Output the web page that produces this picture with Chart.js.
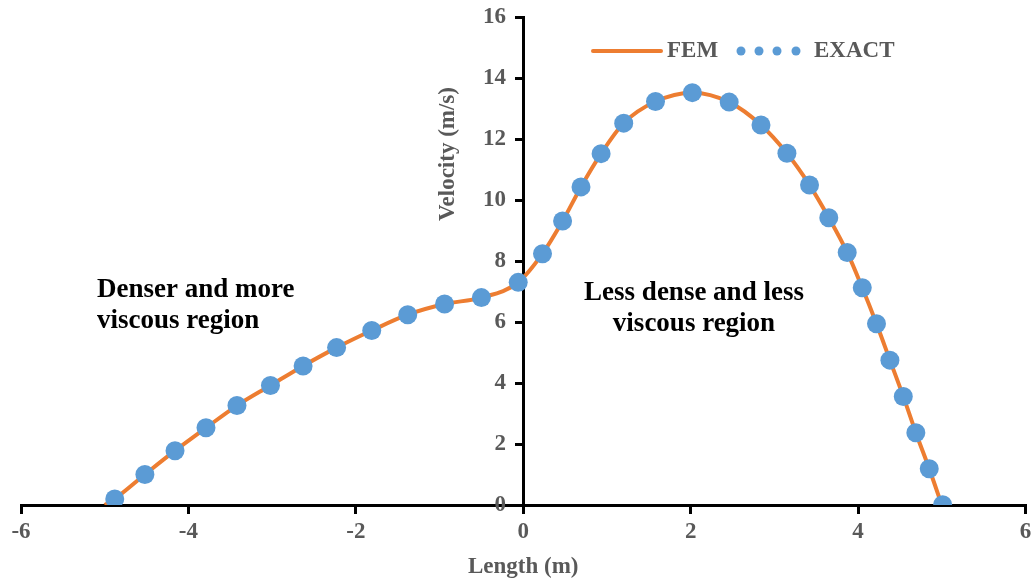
<!DOCTYPE html>
<html lang="en">
<head>
    <script src="https://cdn.jsdelivr.net/npm/chart.js/dist/chart.umd.min.js"></script>
    <style>
        body { margin: 0; background: #fff; }
    </style>
</head>
<body>
<div style="width: 1035px; height: 580px">
    <canvas id="chart"></canvas>
</div>
<script>
    // values
    const femX = [-5.00, -4.88, -4.52, -4.16, -3.79, -3.42, -3.02, -2.63, -2.23, -1.81, -1.38, -0.94, -0.50, -0.06,
        0.23, 0.47, 0.69, 0.93, 1.20, 1.58, 2.02, 2.46, 2.84, 3.15, 3.42, 3.65, 3.87, 4.05, 4.22, 4.38, 4.54, 4.69, 4.85, 5.00];
    const femY = [0.00, 0.20, 1.00, 1.78, 2.53, 3.26, 3.92, 4.56, 5.16, 5.72, 6.24, 6.59, 6.80, 7.30,
        8.24, 9.31, 10.43, 11.52, 12.52, 13.23, 13.52, 13.21, 12.46, 11.53, 10.49, 9.42, 8.28, 7.12, 5.94, 4.75, 3.56, 2.37, 1.19, 0.00];
    const exactX = [-4.88, -4.52, -4.16, -3.79, -3.42, -3.02, -2.63, -2.23, -1.81, -1.38, -0.94, -0.50, -0.06,
        0.23, 0.47, 0.69, 0.93, 1.20, 1.58, 2.02, 2.46, 2.84, 3.15, 3.42, 3.65, 3.87, 4.05, 4.22, 4.38, 4.54, 4.69, 4.85, 5.01];
    const exactY = [0.20, 1.00, 1.78, 2.53, 3.26, 3.92, 4.56, 5.16, 5.72, 6.24, 6.59, 6.80, 7.30,
        8.24, 9.31, 10.43, 11.52, 12.52, 13.23, 13.52, 13.21, 12.46, 11.53, 10.49, 9.42, 8.28, 7.12, 5.94, 4.75, 3.56, 2.37, 1.19, 0.01];
    const leftNote = ['Denser and more', 'viscous region'];
    const rightNote = ['Less dense and less', 'viscous region'];

    const serif = '"Liberation Serif", "Times New Roman", serif';
    const grey = '#595959';
    const orange = '#ED7D31';
    const blue = '#5B9BD5';

    function toPoints(xs, ys) {
        return xs.map(function(x, i) { return {x: x, y: ys[i]}; });
    }

    // keep the chart area exactly where the layout padding puts it
    function noEdgePadding(scale) {
        scale.paddingTop = 0;
        scale.paddingBottom = 0;
        scale.paddingLeft = 0;
        scale.paddingRight = 0;
    }

    // y title, legend and the two notes
    const extras = {
        id: 'extras',
        afterDraw: function(chart) {
            const ctx = chart.ctx;
            ctx.save();

            ctx.font = 'bold 23px ' + serif;
            ctx.fillStyle = grey;
            ctx.textAlign = 'center';
            ctx.textBaseline = 'middle';
            ctx.translate(448, 154);
            ctx.rotate(-Math.PI / 2);
            ctx.fillText('Velocity (m/s)', 0, 0);
            ctx.setTransform(1, 0, 0, 1, 0, 0);

            // legend
            ctx.strokeStyle = orange;
            ctx.lineWidth = 4;
            ctx.lineCap = 'round';
            ctx.beginPath();
            ctx.moveTo(593, 51);
            ctx.lineTo(661, 51);
            ctx.stroke();
            ctx.fillStyle = blue;
            [741, 759, 777, 796].forEach(function(x) {
                ctx.beginPath();
                ctx.arc(x, 51, 4.5, 0, Math.PI * 2);
                ctx.fill();
            });
            ctx.fillStyle = grey;
            ctx.textAlign = 'left';
            ctx.fillText('FEM', 667, 51);
            ctx.fillText('EXACT', 814, 51);

            // notes
            ctx.font = 'bold 27px ' + serif;
            ctx.fillStyle = '#000';
            ctx.textBaseline = 'alphabetic';
            ctx.fillText(leftNote[0], 97, 297);
            ctx.fillText(leftNote[1], 97, 328);
            ctx.textAlign = 'center';
            ctx.fillText(rightNote[0], 694, 300);
            ctx.fillText(rightNote[1], 694, 331);
            ctx.restore();
        }
    };

    const tickFont = {family: serif, size: 23, weight: 'bold'};

    const config = {
        type: 'scatter',
        data: {
            datasets: [
                {
                    label: 'FEM',
                    data: toPoints(femX, femY),
                    showLine: true,
                    borderColor: orange,
                    borderWidth: 4,
                    pointRadius: 0,
                    cubicInterpolationMode: 'monotone',
                    order: 2
                },
                {
                    label: 'EXACT',
                    data: toPoints(exactX, exactY),
                    showLine: false,
                    backgroundColor: blue,
                    borderColor: blue,
                    pointRadius: 9.5,
                    pointBorderWidth: 0,
                    order: 1
                }
            ]
        },
        options: {
            responsive: true,
            maintainAspectRatio: false,
            animation: false,
            layout: {padding: {left: 21, right: 5, top: 17, bottom: 75}},
            plugins: {
                legend: {display: false},
                tooltip: {enabled: false}
            },
            scales: {
                x: {
                    type: 'linear',
                    position: {y: 0},
                    min: -6,
                    max: 6,
                    afterFit: noEdgePadding,
                    ticks: {stepSize: 2, font: tickFont, color: grey, padding: 6, maxRotation: 0},
                    grid: {drawOnChartArea: false, color: '#000', lineWidth: 3, tickLength: 7},
                    border: {color: '#000', width: 3},
                    title: {display: true, text: 'Length (m)', font: tickFont, color: grey, padding: {top: 2, bottom: 0}}
                },
                y: {
                    type: 'linear',
                    position: {x: 0},
                    min: 0,
                    max: 16,
                    afterFit: noEdgePadding,
                    ticks: {
                        stepSize: 2,
                        font: tickFont,
                        color: grey,
                        // labels of an axis placed by value sit on the line, so push them left
                        callback: function(value) { return value + '\u2002 '; }
                    },
                    grid: {drawOnChartArea: false, color: '#000', lineWidth: 3, tickLength: 7},
                    border: {color: '#000', width: 3}
                }
            }
        },
        plugins: [extras]
    };
    const chart = new Chart(document.getElementById('chart'), config);
</script>
</body>
</html>
